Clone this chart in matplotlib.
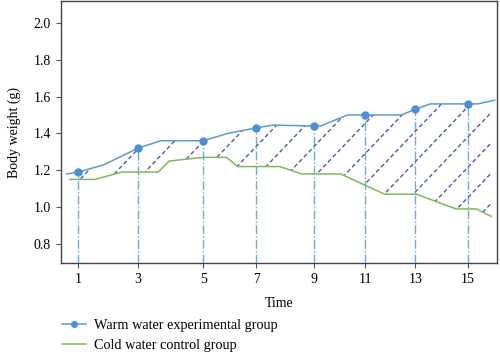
import matplotlib.pyplot as plt
import numpy as np

plt.rcParams['font.family'] = ['Liberation Serif', 'DejaVu Serif']

# time points (where each sampled time sits on the axis in the picture)
tick_pos = [1.0, 3.15, 5.49, 7.40, 9.47, 11.32, 13.11, 15.0]
tick_labels = ['1', '3', '5', '7', '9', '11', '13', '15']

# warm water experimental group
warm_x = [0.58, 1.0, 1.93, 3.15, 3.97, 5.49, 6.38, 7.40, 8.00, 9.47, 9.71,
          10.68, 11.32, 12.61, 13.11, 13.65, 15.0, 15.36, 15.96]
warm_y = [1.18, 1.19, 1.23, 1.32, 1.36, 1.36, 1.40, 1.43, 1.445, 1.44, 1.44,
          1.50, 1.50, 1.50, 1.53, 1.56, 1.56, 1.56, 1.58]
marker_y = [1.19, 1.32, 1.36, 1.43, 1.44, 1.50, 1.53, 1.56]

# cold water control group
cold_x = [0.70, 1.60, 2.56, 3.87, 4.27, 5.49, 6.33, 6.73, 8.24, 9.03, 10.43,
          12.01, 13.15, 14.58, 15.30, 15.84]
cold_y = [1.15, 1.15, 1.19, 1.19, 1.25, 1.27, 1.27, 1.22, 1.22, 1.18, 1.18,
          1.07, 1.07, 0.99, 0.99, 0.95]

blue = '#5b9bd5'
green = '#7dbb55'
hatch_col = '#4a5cb0'
drop_col = '#6aaee6'

fig = plt.figure(figsize=(5, 3.62), dpi=100)
ax = fig.add_axes([0.1214, 0.2727, 0.8726, 0.7253])

ylo, yhi = 0.695, 2.12

# drop lines from markers to the axis
ax.vlines(tick_pos, ylo, marker_y, colors=drop_col, linestyles='dashdot',
          lw=1, zorder=1)

# hatched area between the groups
grid = np.union1d(warm_x, cold_x)
grid = grid[(grid >= cold_x[0]) & (grid <= cold_x[-1])]
upper = np.interp(grid, warm_x, warm_y)
lower = np.interp(grid, cold_x, cold_y)
poly = ax.fill_between(grid, lower, upper, facecolor='none', edgecolor='none')
clip = poly.get_paths()[0]
slope = 0.158
for x0 in np.arange(10.39 - 1.04 * 16, 22, 1.04):
    hx = np.array([x0 - 8, x0 + 8])
    hy = 1.309 + slope * (hx - x0)
    ln, = ax.plot(hx, hy, color=hatch_col, lw=1, dashes=(3, 2), zorder=2)
    ln.set_clip_path(clip, ax.transData)

warm_line, = ax.plot(warm_x, warm_y, color=blue, lw=1.1, zorder=3,
                     label='Warm water experimental group')
ax.plot(tick_pos, marker_y, 'o', color='#4a90d9', ms=5, zorder=4)
cold_line, = ax.plot(cold_x, cold_y, color=green, lw=1.1, zorder=3,
                     label='Cold water control group')

ax.set_xlim(0.37, 16.05)
ax.set_ylim(ylo, yhi)
ax.set_xticks(tick_pos)
ax.set_xticklabels(tick_labels)
ax.set_yticks([0.8, 1.0, 1.2, 1.4, 1.6, 1.8, 2.0])
ax.tick_params(labelsize=10, length=3.5, color='#555555')
for s in ax.spines.values():
    s.set_color('#444444')
    s.set_linewidth(1)

ax.set_xlabel('Time', fontsize=10, labelpad=8)
ax.set_ylabel('Body weight (g)', fontsize=10, labelpad=9)

legend_line = plt.Line2D([], [], color=blue, lw=1.1, marker='o', ms=4,
                         markerfacecolor='#4a90d9', markeredgecolor='#4a90d9')
fig.legend([legend_line, cold_line],
           ['Warm water experimental group', 'Cold water control group'],
           loc='upper left', bbox_to_anchor=(0.124, 0.118), frameon=False,
           fontsize=10.3, handlelength=1.65, handletextpad=0.6,
           labelspacing=0.5, borderaxespad=0, borderpad=0)

fig.savefig('out.png', dpi=100)
